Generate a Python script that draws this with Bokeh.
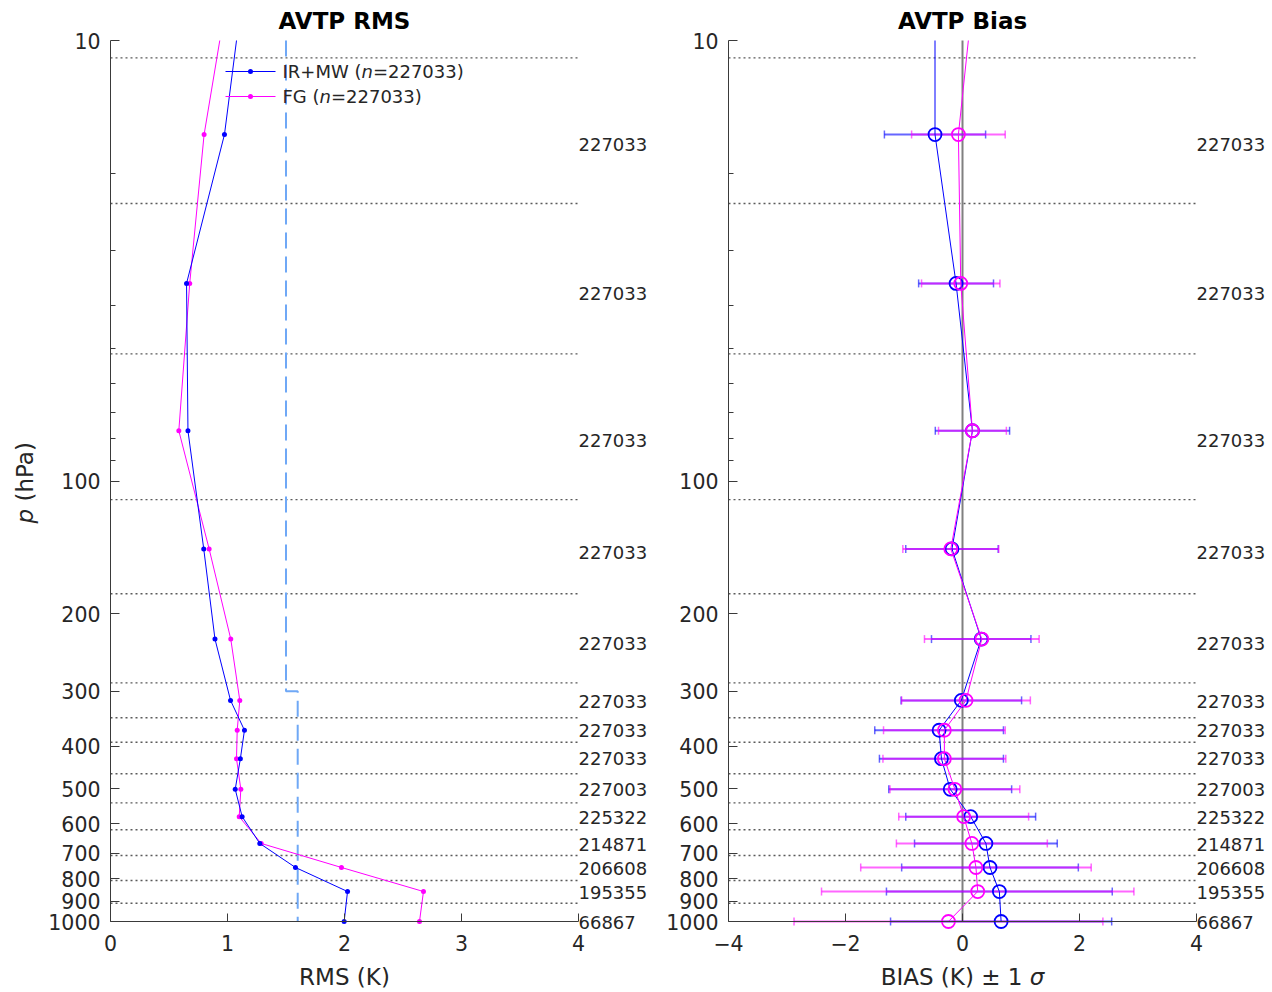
import math

from bokeh.core.properties import value
from bokeh.embed import file_html
from bokeh.layouts import row
from bokeh.models import AllLabels, BasicTickFormatter, FixedTicker, Label, Range1d
from bokeh.plotting import figure
from bokeh.resources import INLINE

# ---------------------------------------------------------------- data
# Pressure (hPa) of each layer's point; the first entry is where the traces
# leave the top of the axes (10 hPa), it carries no marker
p_level = [10.0, 16.35, 35.6, 76.9, 142.6, 228.5, 314.8, 368.0, 427.0, 501.0,
           578.0, 665.0, 754.0, 855.0, 1000.0]
# Pressure (hPa) at which each layer's sample count is printed
p_count = [17.2, 37.5, 80.9, 145.3, 233.8, 316.7, 368.0, 427.0, 501.0,
           580.6, 668.7, 758.0, 859.6, 1005.0]
counts = [227033, 227033, 227033, 227033, 227033, 227033, 227033, 227033,
          227003, 225322, 214871, 206608, 195355, 66867]
# Layer boundaries (hPa), drawn as dotted lines
p_bounds = [10.95, 23.44, 51.44, 110.2, 180.3, 287.2, 344.8, 391.7, 462.0,
            537.8, 619.2, 708.3, 807.1, 908.7]

# RMS (K)
rms_irmw = [1.077, 0.974, 0.650, 0.662, 0.797, 0.893, 1.026, 1.145, 1.110,
            1.066, 1.125, 1.276, 1.581, 2.026, 1.997]
rms_fg = [0.934, 0.800, 0.677, 0.584, 0.843, 1.028, 1.105, 1.083, 1.077,
          1.114, 1.100, 1.288, 1.974, 2.675, 2.641]

# Bias (K) and standard deviation (K)
bias_irmw = [-0.47, -0.47, -0.11, 0.17, -0.18, 0.32, -0.02, -0.40, -0.36,
             -0.21, 0.14, 0.40, 0.47, 0.63, 0.66]
std_irmw = [0.865, 0.64, 0.635, 0.79, 0.85, 1.03, 1.10, 1.06, 1.05,
            1.11, 1.22, 1.51, 1.93, 1.89]
bias_fg = [0.10, -0.07, -0.03, 0.17, -0.20, 0.33, 0.06, -0.31, -0.31, -0.13,
           0.02, 0.16, 0.23, 0.26, -0.24]
std_fg = [0.80, 0.67, 0.58, 0.82, 0.98, 1.10, 1.04, 1.05, 1.11, 1.11,
          1.29, 1.97, 2.67, 2.64]

# Accuracy requirement (K): 1.5 K above 300 hPa, 1.6 K below
spec_p = [10, 300, 300, 1000]
spec_k = [1.5, 1.5, 1.6, 1.6]

n_irmw = 227033
n_fg = 227033

Y_TICKS = [10, 100, 200, 300, 400, 500, 600, 700, 800, 900, 1000]
Y_MINOR = [20, 30, 40, 50, 60, 70, 80, 90]
RMS_TICKS = [0, 1, 2, 3, 4]
BIAS_TICKS = [-4, -2, 0, 2, 4]

# ---------------------------------------------------------------- style
FONT = "DejaVu Sans"
INK = "#262626"
AXIS = "#3a3a3a"
BLUE = "#0000ff"
MAGENTA = "#ff00ff"
SPEC = "#6fa8f6"
DOT = "#5a5a5a"

# DejaVu Sans advance widths (em) for glyphs in the composed labels
ADV = {"I": .295, "R": .695, "+": .838, "M": .863, "W": .989, " ": .318,
       "(": .390, ")": .390, "F": .575, "G": .776, "n": .634, "=": .838,
       "B": .686, "A": .684, "S": .635, "K": .656, "±": .838, "σ": .635,
       "p": .635, "h": .634, "P": .603, "a": .613}
for d in "0123456789":
    ADV[d] = .636


def text_w(s, px):
    return sum(ADV[c] for c in s) * px


# ---------------------------------------------------------------- geometry
# Each figure's frame fills the whole figure; the axes sit at fixed data
# locations inside it so that titles, labels and counts are never clipped.
W1, W2, H = 650, 622, 992
TOP, BOTTOM = 40, 71          # rows above 10 hPa / below 1000 hPa
LEFT1, LEFT2 = 110, 78        # columns left of each x-axis start
K1 = 117.0                    # px per K, RMS panel
K2 = 58.5                     # px per K, bias panel
FRAME_H = H - TOP - BOTTOM
TITLE_ROW = 20.5              # vertical centre of the titles
XLABEL_ROW = 976.5            # vertical centre of the x-axis labels
YLABEL_COL = 24.5             # horizontal centre of the y-axis label


def y_at(py):
    """page row -> pressure on the shared log axis (10 hPa at row TOP)"""
    return 10 ** (1 + 2 * (py - TOP) / FRAME_H)


def x1_at(px):
    return (px - LEFT1) / K1 + RMS_TICKS[0]


def x2_at(px):
    return (px - W1 - LEFT2) / K2 + BIAS_TICKS[0]


def make_fig(width, left, px_per_k, xticks):
    x_start = xticks[0] - left / px_per_k
    x_end = xticks[0] + (width - left) / px_per_k
    f = figure(width=width, height=H, x_range=Range1d(x_start, x_end),
               y_range=Range1d(y_at(H), y_at(0)), y_axis_type="log",
               output_backend="svg", toolbar_location=None, title=None,
               min_border_left=0, min_border_right=0,
               min_border_top=0, min_border_bottom=0)
    f.outline_line_color = None
    f.background_fill_color = "white"
    f.border_fill_color = "white"
    f.grid.visible = False
    for ax in f.axis:
        ax.axis_line_color = AXIS
        ax.axis_line_width = 1
        ax.major_tick_line_color = AXIS
        ax.minor_tick_line_color = AXIS
        ax.major_tick_out = 0
        ax.minor_tick_out = 0
        ax.major_label_text_font = FONT
        ax.major_label_text_font_size = "20.5px"
        ax.major_label_text_color = INK
        ax.major_label_policy = AllLabels()
    ya = f.yaxis[0]
    ya.fixed_location = xticks[0]
    ya.bounds = (Y_TICKS[0], Y_TICKS[-1])
    ya.ticker = FixedTicker(ticks=Y_TICKS, minor_ticks=Y_MINOR)
    ya.formatter = BasicTickFormatter()
    ya.major_tick_in = 9
    ya.minor_tick_in = 5
    ya.major_label_standoff = 10
    xa = f.xaxis[0]
    xa.fixed_location = Y_TICKS[-1]
    xa.bounds = (xticks[0], xticks[-1])
    xa.ticker = FixedTicker(ticks=xticks, minor_ticks=[])
    xa.major_tick_in = 8
    xa.major_label_standoff = 13
    xa.major_label_overrides = {t: str(t).replace("-", "\u2212") for t in xticks if t < 0}
    return f


def add_label(f, x, y, text, size, style="normal", align="left",
              angle=0.0, color=INK):
    f.add_layout(Label(x=x, y=y, text=text, text_font=FONT, text_font_size=size,
                       text_font_style=style, text_align=align,
                       text_baseline="middle", angle=angle, text_color=color))


def add_counts(f, x):
    f.text(x=x, y=p_count, text=[str(c) for c in counts], text_font=value(FONT),
           text_font_size="18px", text_color=INK, text_align="left",
           text_baseline="middle")


def add_layers(f, x0, x1):
    f.segment(x0=x0, x1=x1, y0=p_bounds, y1=p_bounds, line_color=DOT,
              line_width=1.4, line_dash="2 3")


marked = p_level[1:]   # levels that carry markers

# ---------------------------------------------------------------- RMS panel
p1 = make_fig(W1, LEFT1, K1, RMS_TICKS)
add_layers(p1, RMS_TICKS[0], RMS_TICKS[-1])
p1.line(spec_k, spec_p, line_color=SPEC, line_width=2, line_dash="16 8")

p1.line(rms_fg, p_level, line_color=MAGENTA, line_width=1)
p1.scatter(rms_fg[1:], marked, marker="circle", size=5, fill_color=MAGENTA, line_color=None)
p1.line(rms_irmw, p_level, line_color=BLUE, line_width=1)
p1.scatter(rms_irmw[1:], marked, marker="circle", size=5, fill_color=BLUE, line_color=None)
add_counts(p1, RMS_TICKS[-1])

# legend with an italic "n"
for row_y, colour, name, n in [(71, BLUE, "IR+MW (", n_irmw), (96, MAGENTA, "FG (", n_fg)]:
    yy = y_at(row_y)
    p1.line([x1_at(225), x1_at(275)], [yy, yy], line_color=colour, line_width=1)
    p1.scatter([x1_at(250)], [yy], marker="circle", size=5, fill_color=colour, line_color=None)
    x0 = 282
    add_label(p1, x1_at(x0), yy, name, "18px")
    x0 += text_w(name, 18)
    add_label(p1, x1_at(x0), yy, "n", "18px", style="italic")
    x0 += text_w("n", 18)
    add_label(p1, x1_at(x0), yy, "=%d)" % n, "18px")

mid1 = (RMS_TICKS[0] + RMS_TICKS[-1]) / 2
add_label(p1, mid1, y_at(TITLE_ROW), "AVTP RMS", "23px", style="bold", align="center", color="black")
add_label(p1, mid1, y_at(XLABEL_ROW), "RMS (K)", "23px", align="center")
add_label(p1, x1_at(YLABEL_COL), y_at(523), "p", "23px", style="italic", angle=math.pi / 2)
add_label(p1, x1_at(YLABEL_COL), y_at(523 - text_w("p ", 23)), "(hPa)", "23px", angle=math.pi / 2)

# ---------------------------------------------------------------- bias panel
p2 = make_fig(W2, LEFT2, K2, BIAS_TICKS)
add_layers(p2, BIAS_TICKS[0], BIAS_TICKS[-1])
p2.segment(x0=0, x1=0, y0=Y_TICKS[0], y1=Y_TICKS[-1], line_color="#808080", line_width=2)

for bias, std, colour in [(bias_irmw, std_irmw, BLUE), (bias_fg, std_fg, MAGENTA)]:
    lo = [b - s for b, s in zip(bias[1:], std)]
    hi = [b + s for b, s in zip(bias[1:], std)]
    p2.segment(x0=lo, x1=hi, y0=marked, y1=marked, line_color=colour,
               line_alpha=0.6, line_width=2)
    for ends in (lo, hi):
        p2.scatter(ends, marked, marker="dash", angle=math.pi / 2, size=8,
                   line_color=colour, line_alpha=0.6, line_width=1.5)

for bias, colour in [(bias_irmw, BLUE), (bias_fg, MAGENTA)]:
    p2.line(bias, p_level, line_color=colour, line_width=1)
    p2.scatter(bias[1:], marked, marker="circle", size=13, fill_color=None,
               line_color=colour, line_width=1.8)
add_counts(p2, BIAS_TICKS[-1])

mid2 = (BIAS_TICKS[0] + BIAS_TICKS[-1]) / 2
add_label(p2, mid2, y_at(TITLE_ROW), "AVTP Bias", "23px", style="bold", align="center", color="black")
head = "BIAS (K) ± 1 "
total = text_w(head, 23) + text_w("σ", 23)
start_px = W1 + LEFT2 + (mid2 - BIAS_TICKS[0]) * K2 - total / 2
add_label(p2, x2_at(start_px), y_at(XLABEL_ROW), head, "23px")
add_label(p2, x2_at(start_px + text_w(head, 23)), y_at(XLABEL_ROW), "σ", "23px", style="italic")

layout = row(p1, p2)
open("out.html", "w").write(file_html(layout, INLINE))
